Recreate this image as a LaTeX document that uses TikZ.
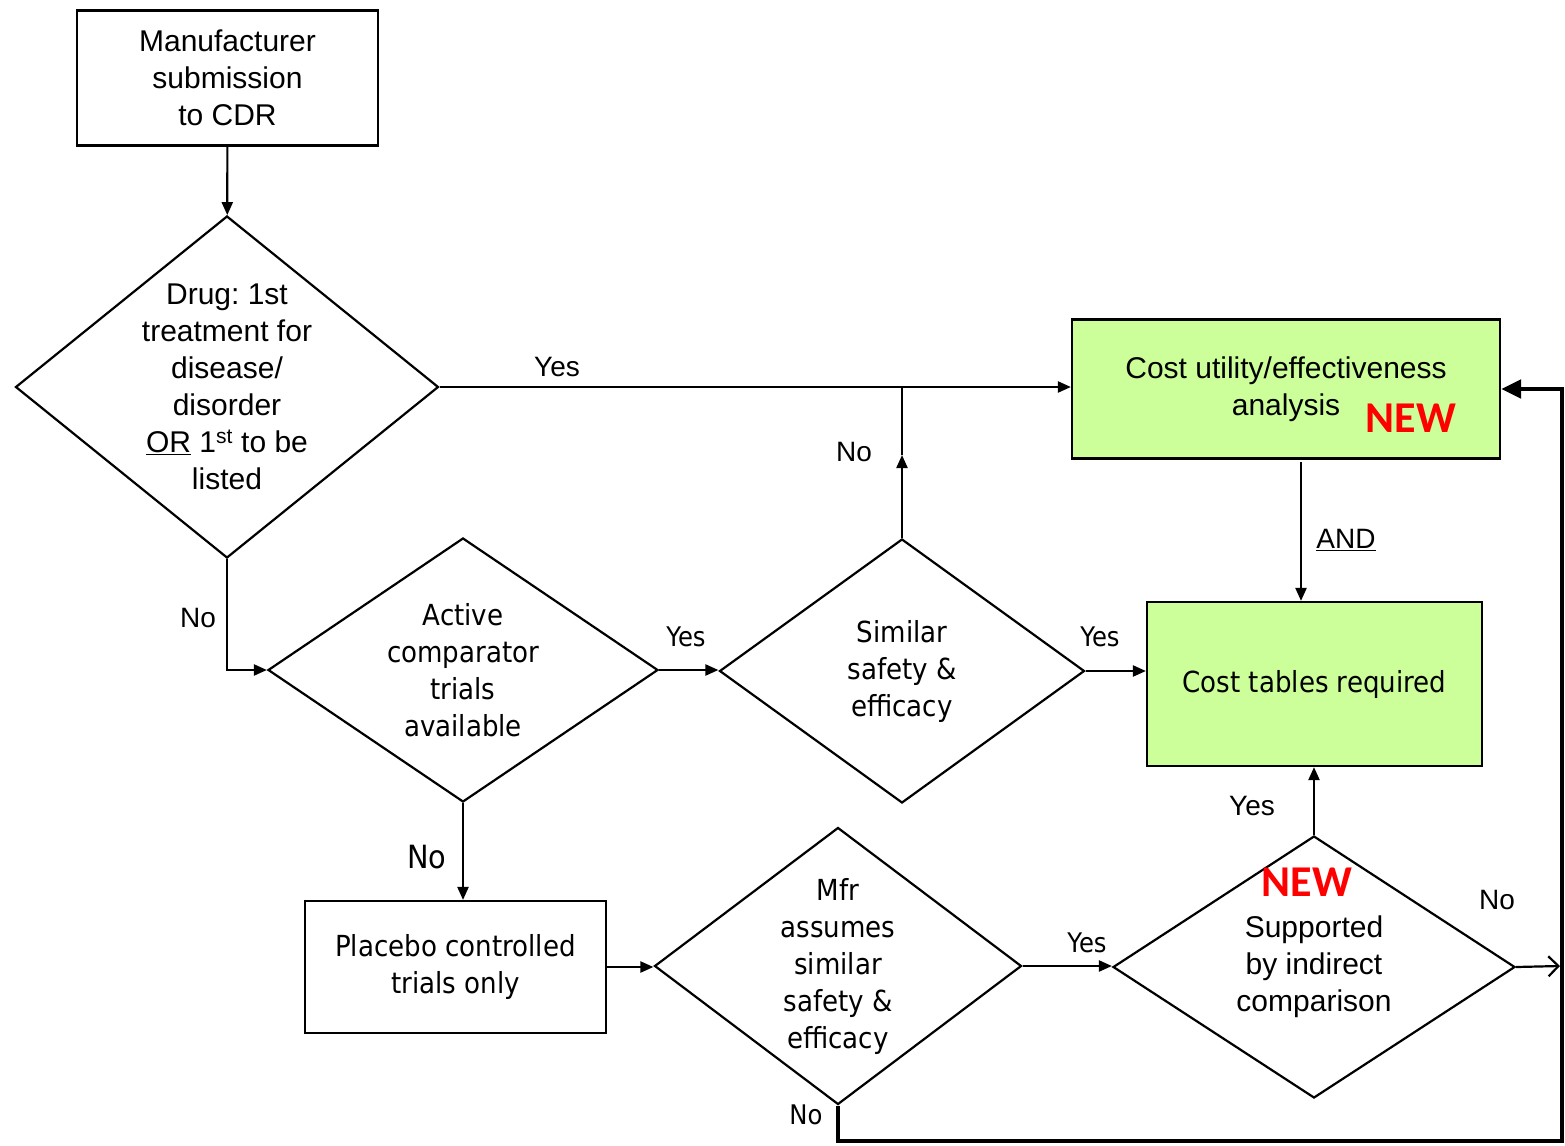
\documentclass[tikz,border=0pt]{standalone}
\usepackage{fontspec}
\setmainfont{Liberation Sans}
\newfontfamily\tahomafont[FakeStretch=0.9]{DejaVu Sans}
\newfontfamily\calibrifont{Carlito}
\usetikzlibrary{arrows.meta, shapes.geometric}
\definecolor{costgreen}{RGB}{204,255,153}
\frenchspacing

\begin{document}
\begin{tikzpicture}[
    x=1pt, y=-1pt,
    box/.style={draw, line width=2.2pt, inner sep=0pt, align=center, font=\fontsize{30}{37}\selectfont},
    dec/.style={diamond, draw, line width=2.2pt, inner sep=-10pt, align=center, font=\fontsize{30}{37}\selectfont},
    tah/.style={font=\tahomafont\fontsize{29}{37}\selectfont},
    lbl/.style={inner sep=0pt, font=\fontsize{28}{32}\selectfont},
    lbltah/.style={inner sep=0pt, font=\tahomafont\fontsize{27}{32}\selectfont},
    newtag/.style={inner sep=0pt, text=red, font=\calibrifont\bfseries\fontsize{44}{50}\selectfont},
    arr/.style={-{Triangle[length=13pt, width=11pt]}, line width=2.2pt},
    barr/.style={-{Triangle[length=20pt, width=18pt]}, line width=4.8pt},
    oarr/.style={-{Straight Barb[length=10pt, width=20pt]}, line width=2.2pt},
]
\useasboundingbox (0,0) rectangle (1565,1145);

% Left column: submission and first question
\node[box, minimum width=301pt, minimum height=135pt] (submit) at (227.5,78) {Manufacturer\\submission\\to CDR};
\node[dec, aspect=1.24, minimum width=423pt, minimum height=342pt] (first-drug) at (227,387)
    {Drug: 1st\\treatment for\\disease/\\disorder\\\underline{OR} 1\textsuperscript{st} to be\\listed};

% Middle row: comparator questions
\node[dec, tah, aspect=1.48, minimum width=390pt, minimum height=264pt] (active) at (463,670) {Active\\comparator\\trials\\available};
\node[dec, tah, aspect=1.38, minimum width=365pt, minimum height=264pt] (similar) at (902,671) {Similar\\safety \&\\efficacy};

% Right: outcomes
\node[box, fill=costgreen, minimum width=428pt, minimum height=139pt] (cost-ua) at (1286,389) {Cost utility/effectiveness\\analysis};
\node[newtag] (new-ua) at (1411,418) {NEW};
\node[box, tah, fill=costgreen, minimum width=335pt, minimum height=164pt] (cost-tab) at (1314.5,684) {Cost tables required};

% Bottom row: placebo path
\node[box, tah, minimum width=301pt, minimum height=132pt] (placebo) at (455.5,967) {Placebo controlled\\trials only};
\node[dec, tah, aspect=1.32, minimum width=367pt, minimum height=277pt] (mfr-assume) at (838,966) {Mfr\\assumes\\similar\\safety \&\\efficacy};
\node[dec, aspect=1.53, minimum width=402pt, minimum height=262pt] (indirect) at (1314,967) {Supported\\by indirect\\comparison};
\node[newtag] (new-ind) at (1307,882) {NEW};

\coordinate (no-tip) at (902,455);
\coordinate (and-top) at (1301,462);
\coordinate (exit) at (1560,966);
\coordinate (loop-corner) at (1562,1141);

% Connectors
\draw[arr] (submit) -- (first-drug);
\draw[arr] (first-drug.east) -- (first-drug.east -| cost-ua.west);
\draw[arr] (first-drug.south) |- (active.west);
\draw[arr] (active.east) -- (active.east -| similar.west);
\draw[arr] (similar.east) -- (similar.east -| cost-tab.west);
\draw[arr] (similar.north) -- (no-tip);
\draw[line width=2.2pt] (no-tip) -- (no-tip |- first-drug.east);
\draw[arr] (and-top) -- (and-top |- cost-tab.north);
\draw[arr] (active.south) -- (active.south |- placebo.north);
\draw[arr] (placebo.east) -- (placebo.east -| mfr-assume.west);
\draw[arr] (mfr-assume.east) -- (mfr-assume.east -| indirect.west);
\draw[arr] (indirect.north) -- (indirect.north |- cost-tab.south);
\draw[oarr] (indirect.east) -- (exit);
\draw[barr] (mfr-assume.south) |- (loop-corner) |- (cost-ua.east);

% Labels
\node[lbl] (yes-first) at (557,367) {Yes};
\node[lbl] (no-first) at (198,618) {No};
\node[lbltah] (yes-active) at (686,637) {Yes};
\node[lbltah] (yes-similar) at (1100,637) {Yes};
\node[lbl] (no-similar) at (854,452) {No};
\node[lbl] (and-lbl) at (1346,540) {\underline{AND}};
\node[lbltah, font=\tahomafont\fontsize{32}{36}\selectfont] (no-active) at (427,857) {No};
\node[lbltah] (yes-assume) at (1087,943) {Yes};
\node[lbl] (yes-indirect) at (1252,806) {Yes};
\node[lbl] (no-indirect) at (1497,900) {No};
\node[lbltah] (no-assume) at (806,1115) {No};

\end{tikzpicture}
\end{document}
